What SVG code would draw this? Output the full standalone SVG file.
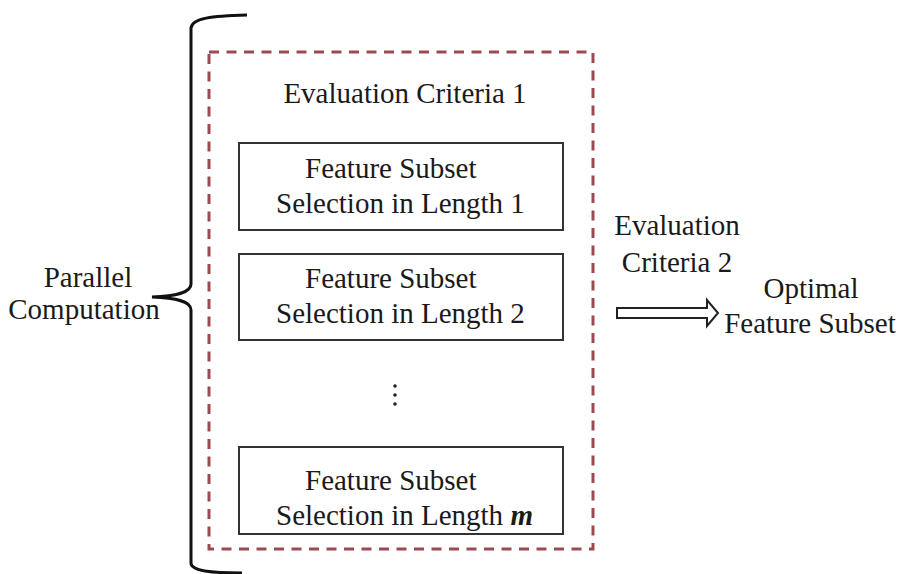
<svg xmlns="http://www.w3.org/2000/svg" width="904" height="574" viewBox="0 0 904 574">
<style>
text{font-family:"Liberation Serif","Times New Roman",serif;font-size:29px;fill:#1a1a1a}
.box{fill:none;stroke:#333;stroke-width:2}
</style>
<rect width="904" height="574" fill="#fff"/>
<g id="brace">
<path d="M247,15 C212,16 192,18 191,28 L191,284 C191,293 176,296 152,297 C176,298 191,301 191,310 L191,563 C191,571 212,573 242,573" fill="none" stroke="#111" stroke-width="3"/>
<text x="88" y="287" text-anchor="middle">Parallel</text>
<text x="84" y="319" text-anchor="middle">Computation</text>
</g>
<g id="criteria1">
<rect x="209" y="52" width="384" height="497" fill="none" stroke="#9b4a52" stroke-width="3" stroke-dasharray="10,7.5"/>
<text x="405" y="103" text-anchor="middle">Evaluation Criteria 1</text>
</g>
<g id="box1">
<rect class="box" x="239" y="143" width="324" height="87"/>
<text x="305" y="178">Feature Subset</text>
<text x="276" y="213">Selection in Length 1</text>
</g>
<g id="box2">
<rect class="box" x="239" y="254" width="324" height="86"/>
<text x="305" y="288">Feature Subset</text>
<text x="276" y="323">Selection in Length 2</text>
</g>
<g id="dots">
<circle cx="395" cy="386" r="1.8" fill="#222"/>
<circle cx="395" cy="395" r="1.8" fill="#222"/>
<circle cx="395" cy="404" r="1.8" fill="#222"/>
</g>
<g id="boxm">
<rect class="box" x="239" y="447" width="324" height="87"/>
<text x="305" y="490">Feature Subset</text>
<text x="276" y="525">Selection in Length <tspan font-style="italic" font-weight="bold">m</tspan></text>
</g>
<g id="connectors">
<polygon points="617,308 707,308 707,300 718,313 707,326 707,318 617,318" fill="#fff" stroke="#222" stroke-width="2" stroke-linejoin="miter"/>
</g>
<g id="criteria2">
<text x="677" y="235" text-anchor="middle">Evaluation</text>
<text x="677" y="272" text-anchor="middle">Criteria 2</text>
</g>
<g id="optimal">
<text x="811" y="298" text-anchor="middle">Optimal</text>
<text x="810" y="333" text-anchor="middle">Feature Subset</text>
</g>
</svg>
